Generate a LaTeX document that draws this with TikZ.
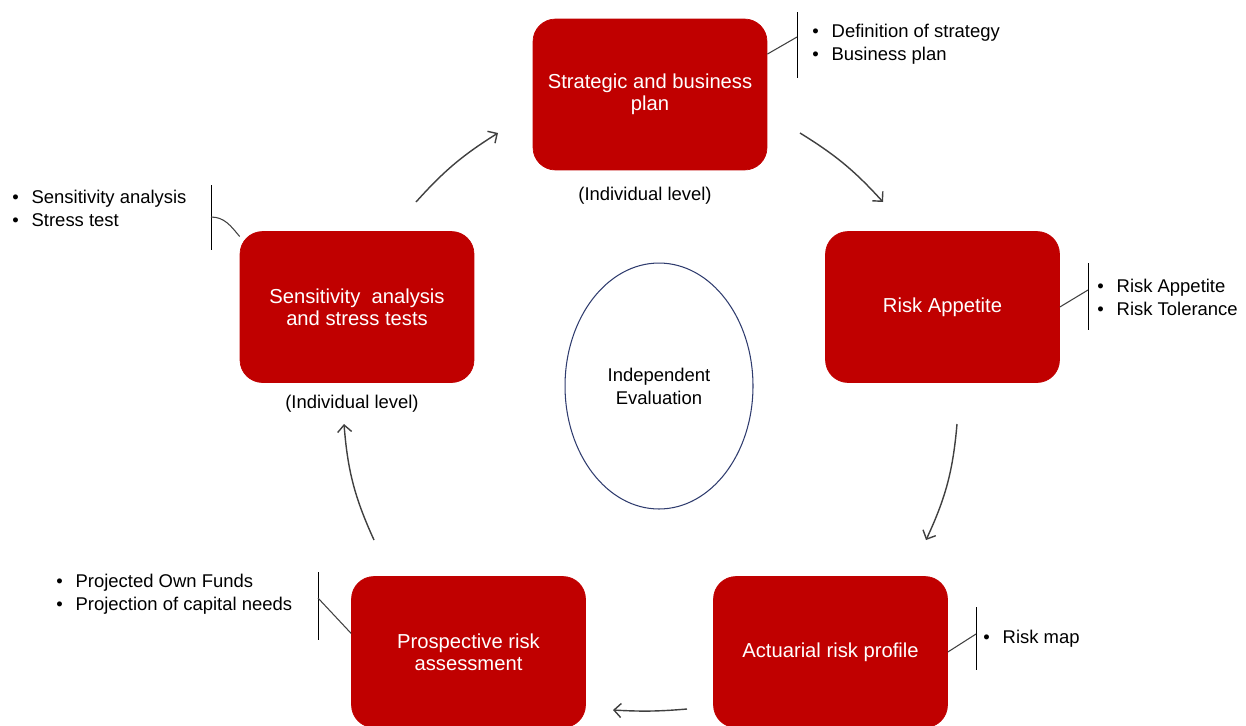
\documentclass[tikz,border=0pt]{standalone}
\usepackage{fontspec}
\setmainfont{Liberation Sans}
\usetikzlibrary{arrows.meta,shapes.geometric}
\definecolor{boxred}{RGB}{192,0,0}
\definecolor{arrgray}{RGB}{64,64,64}
\definecolor{ellblue}{RGB}{47,60,110}
\newcommand{\bulitem}[1]{\makebox[11pt][l]{\textbullet}#1}

\begin{document}
\begin{tikzpicture}[x=0.02cm,y=0.02cm,>={Straight Barb[length=4pt,width=8pt]},
    stage/.style={draw=boxred,fill=boxred,rounded corners=0.45cm,minimum width=4.68cm,minimum height=3.02cm,
        align=center,text=white,font=\fontsize{11.5}{12.5}\selectfont},
    note/.style={anchor=west,inner sep=0pt,align=left,font=\fontsize{10.5}{13}\selectfont},
    lvl/.style={inner sep=0pt,font=\fontsize{10.5}{13}\selectfont},
    cyc/.style={->,draw=arrgray,line width=0.8pt},
    brace/.style={line width=0.5pt},
    lead/.style={draw=arrgray,line width=0.6pt}]
            \useasboundingbox (0,0) rectangle (1246,-725);
            % stages of the cycle
            \node[stage] (strat) at (650,-94.5) {Strategic and business\\plan};
            \node[stage] (appet) at (942.5,-307) {Risk Appetite};
            \node[stage] (actu) at (830.5,-652) {Actuarial risk profile};
            \node[stage] (prosp) at (468.5,-652) {Prospective risk\\assessment};
            \node[stage] (sens) at (357,-307) {Sensitivity~ analysis\\and stress tests};
            \node[ellipse,draw=ellblue,line width=0.6pt,minimum width=3.76cm,minimum height=4.92cm,align=center,
                font=\fontsize{10.5}{13}\selectfont] (evalu) at (659,-386) {Independent\\Evaluation};
            \node[lvl] (stratlvl) at (645,-196) {(Individual level)};
            \node[lvl] (senslvl) at (352,-404) {(Individual level)};
            % arrows between stages
            \coordinate (a1s) at (416,-202); \coordinate (a1e) at (498,-133);
            \coordinate (a2s) at (800,-133); \coordinate (a2e) at (883,-202);
            \coordinate (a3s) at (957,-424); \coordinate (a3e) at (926,-540);
            \coordinate (a4s) at (687,-709); \coordinate (a4e) at (613,-710);
            \coordinate (a5s) at (374,-540); \coordinate (a5e) at (344,-424);
            \draw[cyc] (a1s) to[bend left=8] (a1e);
            \draw[cyc] (a2s) to[bend left=8] (a2e);
            \draw[cyc] (a3s) to[bend left=10] (a3e);
            \draw[cyc] (a4s) to[bend left=4] (a4e);
            \draw[cyc] (a5s) to[bend left=10] (a5e);
            % notes
            \node[note] (stratnote) at (812,-44) {\bulitem{Definition of strategy}\\\bulitem{Business plan}};
            \node[note] (appetnote) at (1097,-297.5) {\bulitem{Risk Appetite}\\\bulitem{Risk Tolerance}};
            \node[note] (actunote) at (983,-638.5) {\bulitem{Risk map}};
            \node[note] (prospnote) at (56,-594) {\bulitem{Projected Own Funds}\\\bulitem{Projection of capital needs}};
            \node[note] (sensnote) at (12,-208) {\bulitem{Sensitivity analysis}\\\bulitem{Stress test}};
            \draw[brace] (797,-12) -- (797,-78);
            \draw[brace] (1088,-263) -- (1088,-330);
            \draw[brace] (976,-607) -- (976,-670);
            \draw[brace] (318,-572) -- (318,-640);
            \draw[brace] (211,-185) -- (211,-250);
            \coordinate (stratj) at (797,-37);
            \coordinate (appetj) at (1088,-290);
            \coordinate (actuj) at (976,-634);
            \coordinate (prospj) at (318,-598);
            \coordinate (sensj) at (211,-217);
            \draw[lead] (strat.19.5) -- (stratj);
            \draw[lead] (appet.east) -- (appetj);
            \draw[lead] (actu.east) -- (actuj);
            \draw[lead] (prosp.171) -- (prospj);
            \draw[lead] (sensj) to[out=0,in=130] (sens.149);
        \end{tikzpicture}
\end{document}
